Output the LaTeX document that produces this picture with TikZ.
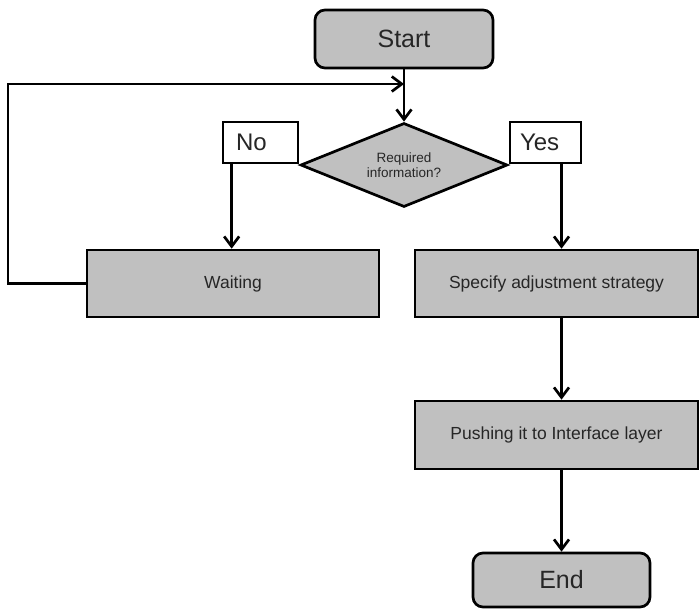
\documentclass[tikz,border=0pt]{standalone}
\usepackage{fontspec}
\setmainfont{Liberation Sans}
\usetikzlibrary{arrows.meta,shapes.geometric}
\definecolor{boxgray}{RGB}{192,192,192}
\definecolor{ink}{RGB}{38,38,38}
\begin{document}
\begin{tikzpicture}[x=1pt,y=-1pt,
  line width=2.7pt,
  every node/.style={text=ink},
  term/.style={draw=black, fill=boxgray, rounded corners=10pt, inner sep=0pt,
    font=\fontsize{25}{30}\selectfont},
  procbox/.style={draw=black, fill=boxgray, inner sep=0pt,
    font=\fontsize{17.5}{21}\selectfont},
  decision/.style={draw=black, fill=boxgray, shape=diamond, aspect=2.46, inner sep=0pt,
    align=center, font=\fontsize{13.5}{15}\selectfont},
  tag/.style={draw=black, fill=white, inner ysep=0pt, minimum height=41pt,
    align=left, font=\fontsize{24}{28}\selectfont},
  arr/.style={-{Straight Barb[length=10pt,width=15pt]}}]
  \useasboundingbox (0,0) rectangle (700,611);

  % terminals
  \node[term, minimum width=178pt, minimum height=58pt] (start) at (404,39) {Start};
  \node[term, minimum width=177pt, minimum height=54pt] (end) at (561.5,580) {End};

  % decision and its two branch labels
  \node[decision, minimum width=207pt, minimum height=84pt] (dia) at (404,165)
    {Required\\information?};
  \node[tag, text width=49pt, inner xsep=13pt] (no) at (260.5,142.5) {No};
  \node[tag, text width=51pt, inner xsep=10pt] (yes) at (545.5,142.5) {Yes};

  % process boxes
  \node[procbox, minimum width=292pt, minimum height=67pt] (wait) at (233,283.5) {Waiting};
  \node[procbox, minimum width=283pt, minimum height=67pt] (spec) at (556.5,283.5)
    {Specify adjustment strategy};
  \node[procbox, minimum width=283pt, minimum height=68pt] (push) at (556.5,435)
    {Pushing it to Interface layer};

  % feedback loop corner and merge point
  \coordinate (loopedge) at (8,84);
  \coordinate (join) at (404,84);

  % connectors
  \draw[arr] (start.south) -- (dia.north);
  \draw[arr] (wait.west) -| (loopedge) -- (join);
  \draw[arr] ([xshift=10pt]no.south west) -- ([xshift=10pt]no.south west |- wait.north);
  \draw[arr] (yes.south -| end.north) -- (spec.north -| end.north);
  \draw[arr] (spec.south -| end.north) -- (push.north -| end.north);
  \draw[arr] (push.south -| end.north) -- (end.north);
\end{tikzpicture}
\end{document}
